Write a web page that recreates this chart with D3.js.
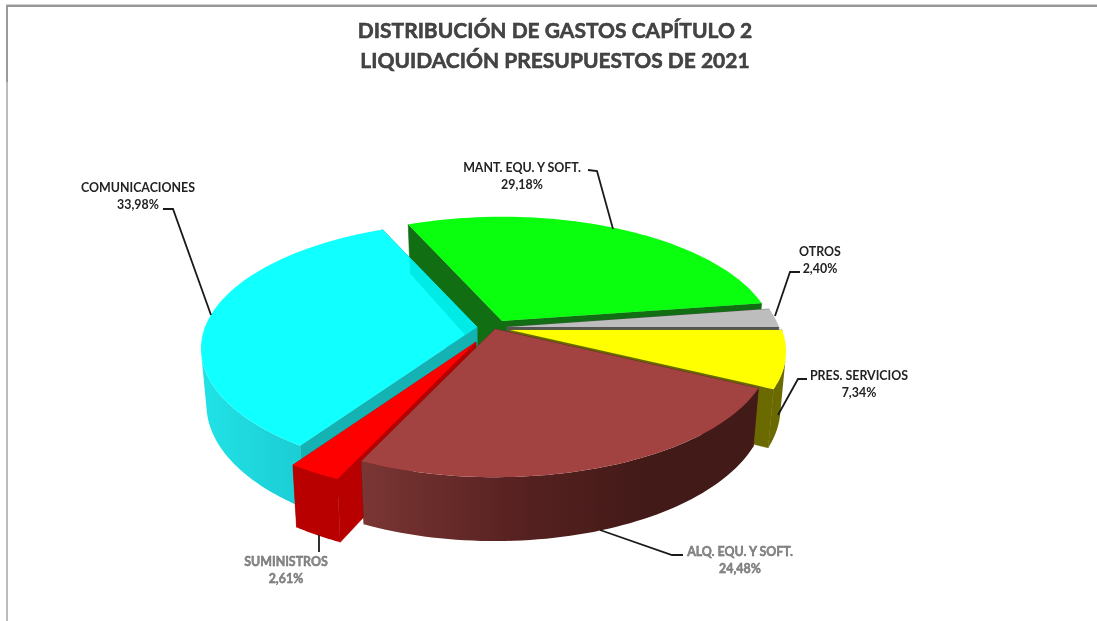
<!DOCTYPE html>
<html>
<head>
<meta charset="utf-8">
<script src="https://d3js.org/d3.v7.min.js"></script>
<style>
html,body{margin:0;padding:0;background:#fff;}
svg{display:block;}
text{font-family:Lato,"Open Sans",sans-serif;font-weight:700;text-anchor:middle;}
</style>
</head>
<body>
<div id="chart"></div>
<script>
// clockwise from the horizontal right edge, same order as the picture
const categories=["PRES. SERVICIOS","ALQ. EQU. Y SOFT.","SUMINISTROS","COMUNICACIONES","MANT. EQU. Y SOFT.","OTROS"];
const percents=[7.34,24.48,2.61,33.98,29.18,2.40];
const titleLines=["DISTRIBUCIÓN DE GASTOS CAPÍTULO 2","LIQUIDACIÓN PRESUPUESTOS DE 2021"];

const width=1097;
const height=621;

// slice styles, indexed like categories
const topColors=["#ffff00","#a24341","#ff0000","#10ffff","#0aff0f","#bdbdbd"];
const wallColors=["#6a6a00","url(#brownWall)","#b80000","url(#cyanWall)","#126e12","#777777"];
const sideColors=["#6a6a00","#5a2220","#b80000","#14b2b2","#126e12","#555555"];
const explode=[[5,0],[-10,-1],[-29,12],[-28,-3],[-3,-9],[2,-3]];
const radii=[1,1,1.03,1,0.99,1];
// back to front
const drawOrder=[4,5,3,0,2,1];

// label anchor (centre x, baseline of first line) and leader line, per slice
const labelPos=[[859,380],[740,556],[286,566],[138,192],[522,172],[820,256]];
const leaders=[
    [[807,379],[798,379],[778,415]],
    [[683,555],[672,555],[600,530]],
    [[319,552],[319,535]],
    [[163,209],[173,209],[211,315]],
    [[588,170],[597,171],[613,229]],
    [[800,272],[790,272],[775,316]]
];

const cx=505, cy=330;
const rx=272, ry=123;
const persp=0.17;
// outer wall is only seen between the two silhouette angles
const wallFrom=0.2, wallTo=2.93;

function project(angle,r,d){
    let x=r*Math.cos(angle);
    let y=r*Math.sin(angle);
    let w=1-persp*y;
    return [cx+d[0]+rx*x/w, cy+d[1]+ry*y/w];
}

// same point on the bottom face of the slice
function lower(p,d){
    let ax=cx+d[0], ay=cy+d[1];
    return [p[0]-0.02*(p[0]-ax), p[1]+55+0.06*(p[1]-ay)];
}

function rim(from,to,r,d){
    let pts=[];
    for(let i=0;i<=60;i++){
        pts.push(project(from+(to-from)*i/60,r,d));
    }
    return pts;
}

const svg=d3.select("#chart").append("svg").attr("width",width).attr("height",height);
const line=d3.line();
const defs=svg.append("defs");

function addGradient(id,x1,x2,stops){
    let g=defs.append("linearGradient").attr("id",id)
    .attr("gradientUnits","userSpaceOnUse")
    .attr("x1",x1).attr("x2",x2).attr("y1",0).attr("y2",0);
    stops.forEach(s=>g.append("stop").attr("offset",s[0]).attr("stop-color",s[1]));
}
addGradient("brownWall",362,760,[[0,"#7a3634"],[0.4,"#562120"],[0.72,"#421a18"],[1,"#421a18"]]);
addGradient("cyanWall",205,300,[[0,"#20e2e6"],[1,"#1ccdd4"]]);

// the source image is an upscaled screenshot, text is soft
defs.append("filter").attr("id","soft").append("feGaussianBlur").attr("stdDeviation",0.35);

// frame of the sheet
svg.append("rect").attr("x",6).attr("y",4).attr("width",width-6).attr("height",1).attr("fill","#cfcfcf");
svg.append("rect").attr("x",6).attr("y",5).attr("width",width-6).attr("height",2).attr("fill","#989898");
svg.append("rect").attr("x",6).attr("y",5).attr("width",2).attr("height",77).attr("fill","#9a9a9a");
svg.append("rect").attr("x",6).attr("y",82).attr("width",2).attr("height",height-82).attr("fill","#bcbcbc");

const pie=d3.pie().sort(null).startAngle(0).endAngle(2*Math.PI);
const slices=pie(percents);

function wedgeWall(angle,r,d){
    let apex=[cx+d[0],cy+d[1]];
    let p=project(angle,r,d);
    return [apex,p,lower(p,d),lower(apex,d)];
}

drawOrder.forEach(i=>{
    let s=slices[i];
    let d=explode[i];
    let r=radii[i];
    let g=svg.append("g");
    let apex=[cx+d[0],cy+d[1]];

    // both cut faces, stroked so no seam shows against the outer wall
    [s.startAngle,s.endAngle].forEach(a=>{
        g.append("path").attr("d",line(wedgeWall(a,r,d))+"Z")
        .attr("fill",sideColors[i])
        .attr("stroke",sideColors[i])
        .attr("stroke-width",0.6);
    });
    // outer curved wall
    let from=Math.max(s.startAngle,wallFrom);
    let to=Math.min(s.endAngle,wallTo);
    if(from<to){
        let outer=rim(from,to,r,d);
        let wall=outer.concat(outer.map(p=>lower(p,d)).reverse());
        g.append("path").attr("d",line(wall)+"Z").attr("fill",wallColors[i]);
    }
    // top face
    g.append("path").attr("d",line([apex].concat(rim(s.startAngle,s.endAngle,r,d)))+"Z").attr("fill",topColors[i]);
});

// the green cut face shows faintly through the cyan top
defs.append("clipPath").attr("id","cyanTop").append("path")
.attr("d",line([[cx+explode[3][0],cy+explode[3][1]]].concat(rim(slices[3].startAngle,slices[3].endAngle,radii[3],explode[3])))+"Z");
svg.append("path")
.attr("d",line(wedgeWall(slices[4].startAngle,radii[4],explode[4]))+"Z")
.attr("fill","#00ebe6")
.attr("clip-path","url(#cyanTop)");

// leaders
svg.selectAll(".leader").data(leaders).enter().append("path")
.attr("class","leader")
.attr("d",d=>line(d))
.attr("fill","none")
.attr("stroke","#1a1a1a")
.attr("stroke-width",1.8);

// labels; the two at the bottom are washed out in the original
const faded=[false,true,true,false,false,false];
categories.forEach((c,i)=>{
    let t=svg.append("g")
    .attr("fill",faded[i]?"#8a8a8a":"#222")
    .attr("stroke",faded[i]?"#666":"none")
    .attr("stroke-width",faded[i]?0.4:0)
    .attr("filter","url(#soft)")
    .style("font-size","12.4px");
    t.append("text").attr("x",labelPos[i][0]).attr("y",labelPos[i][1]).text(c);
    t.append("text").attr("x",labelPos[i][0]).attr("y",labelPos[i][1]+17)
    .text(percents[i].toFixed(2).replace(".",",")+"%");
});

// title
svg.selectAll(".title").data(titleLines).enter().append("text")
.attr("class","title")
.attr("x",555)
.attr("y",(d,i)=>38+i*29.5)
.attr("fill","#444")
.attr("stroke","#333")
.attr("stroke-width",0.5)
.attr("filter","url(#soft)")
.style("font-size","21px")
.text(d=>d);
</script>
</body>
</html>
